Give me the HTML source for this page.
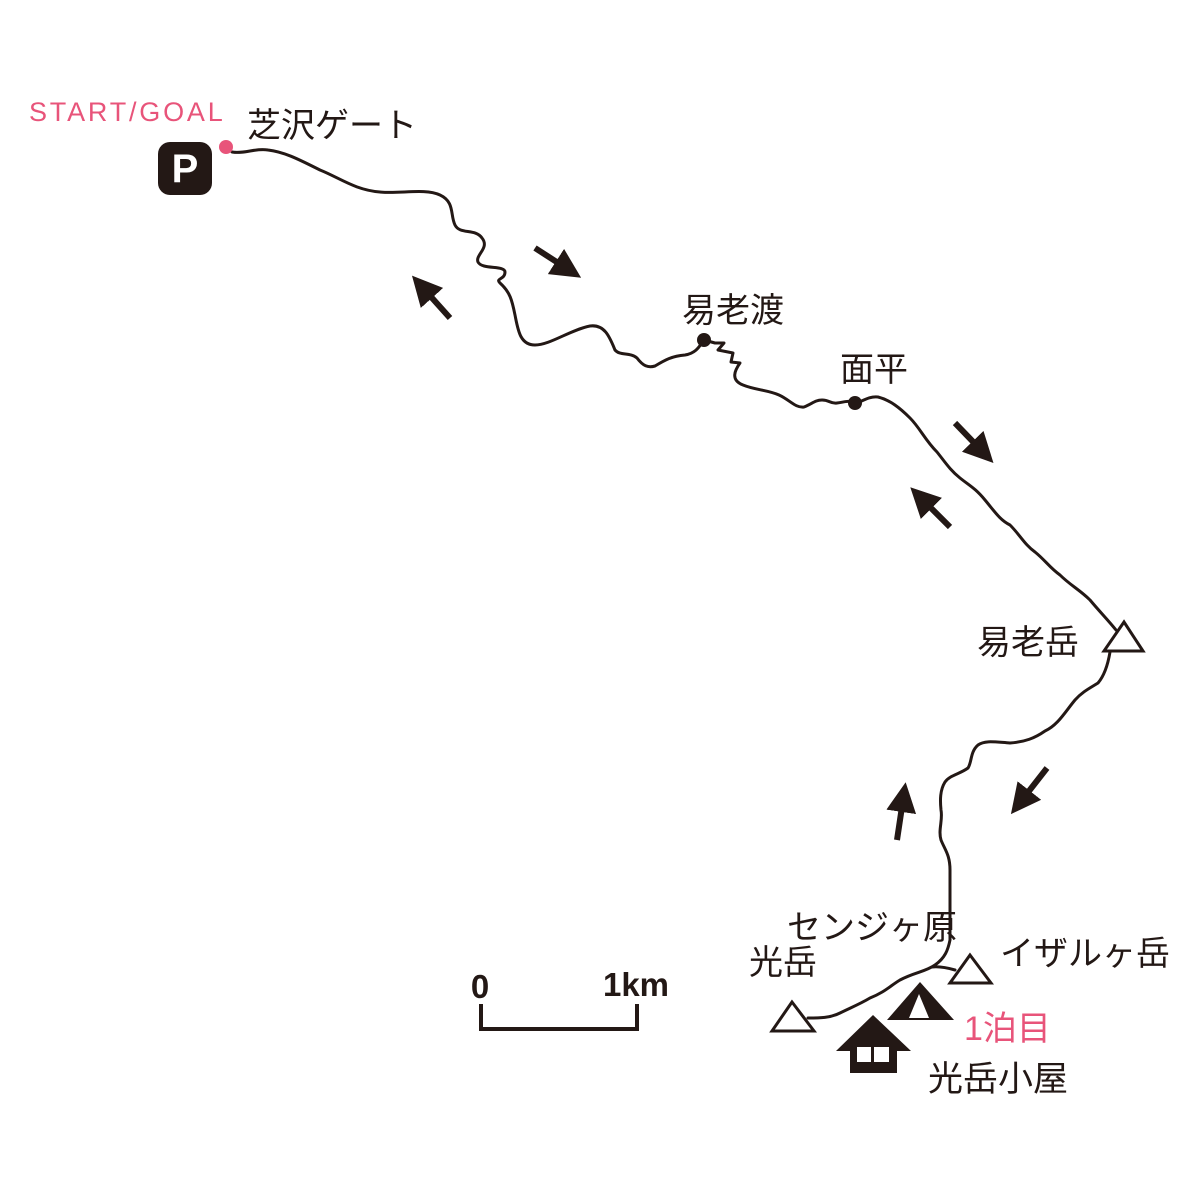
<!DOCTYPE html>
<html><head><meta charset="utf-8"><style>
html,body{margin:0;padding:0;background:#fff}
svg{display:block}
text{font-family:"Liberation Sans","Noto Sans CJK JP",sans-serif;fill:#231815}
</style></head><body>
<svg width="1200" height="1200" viewBox="0 0 1200 1200" xmlns="http://www.w3.org/2000/svg">
<defs>
<marker id="ah" markerWidth="5" markerHeight="5" refX="2" refY="2.5" orient="auto" markerUnits="strokeWidth">
<path d="M0,0 L5,2.5 L0,5 Z" fill="#231815"/>
</marker>
</defs>
<g fill="none" stroke="#231815" stroke-width="3" stroke-linejoin="round" stroke-linecap="round">
<path d="M232,152 C245,154 255,148 268,150 C285,152 300,160 320,170 C340,178 355,190 380,192 C400,194 425,188 440,195 C455,202 450,215 455,225 C460,235 475,228 482,238 C490,248 475,255 478,262 C482,270 505,265 505,272 C505,280 495,278 500,283 C510,292 512,300 515,315 C518,330 520,345 535,345 C550,345 570,330 590,326 C605,324 610,338 615,350 C620,356 630,352 637,358 C643,366 648,368 655,366 C665,360 672,356 685,355 C697,353 700,345 704,340 L715,343 L724,343 L718,350 L733,353 L731,362 L740,363 C735,370 730,380 743,385 C755,390 768,390 779,395 C790,400 795,408 804,407 C812,404 815,400 822,400 C830,400 830,404 837,403 C845,402 848,400 856,403 C862,402 868,396 878,397 C890,400 900,408 910,418 C920,428 925,440 937,452 C945,462 950,470 960,478 C970,486 975,488 985,500 C995,512 1000,520 1010,525 C1020,535 1025,545 1035,552 C1045,560 1050,568 1060,575 C1070,585 1080,590 1090,600 C1100,612 1108,620 1116,630"/>
<path d="M1110,652 C1108,664 1104,676 1098,683 C1090,688 1082,692 1075,700 C1065,712 1058,725 1045,731 C1035,738 1025,742 1010,743 C995,742 985,740 978,745 C970,752 972,762 968,768 C960,774 950,775 945,782 C940,790 940,800 941,810 C943,820 938,830 941,840 C945,850 950,855 950,870 L950,940 C948,950 945,958 935,965 C925,972 915,972 900,980 C890,986 885,992 870,998 C860,1004 850,1008 840,1013 C830,1018 820,1018 808,1018"/>
<path d="M932,967 C940,966 948,968 955,970"/>
</g>
<g stroke="#231815" stroke-width="6" marker-end="url(#ah)">
<line x1="450" y1="318" x2="424" y2="289"/>
<line x1="535" y1="248" x2="566" y2="268"/>
<line x1="955" y1="423" x2="981" y2="450"/>
<line x1="950" y1="527" x2="923" y2="500"/>
<line x1="1047" y1="768" x2="1022" y2="800"/>
<line x1="897" y1="840" x2="903" y2="800"/>
</g>
<g fill="#fff" stroke="#231815" stroke-width="3" stroke-linejoin="miter">
<polygon points="1124,622 1104,651 1143,651"/>
<polygon points="792,1002 772,1031 814,1031"/>
<polygon points="970,955 950,983 991,983"/>
</g>
<polygon points="920,982 887,1020 954,1020" fill="#231815"/>
<polygon points="919,994 909,1018 929,1018" fill="#fff"/>
<polygon points="873,1015 836,1051 911,1051" fill="#231815"/>
<rect x="850" y="1046" width="47" height="27" fill="#231815"/>
<rect x="857" y="1047" width="14" height="15" fill="#fff"/>
<rect x="874" y="1047" width="15" height="15" fill="#fff"/>
<circle cx="704" cy="340" r="7" fill="#231815"/>
<circle cx="855" cy="403" r="7" fill="#231815"/>
<circle cx="226" cy="147" r="7" fill="#e8547a"/>
<rect x="158" y="142" width="54" height="53" rx="12" fill="#231815"/>
<text x="185" y="182" font-size="40" font-weight="bold" text-anchor="middle" style="fill:#fff">P</text>
<g stroke="#231815" stroke-width="4" fill="none">
<path d="M481,1004 L481,1029 L637,1029 L637,1004"/>
</g>
<text x="480" y="998" font-size="33" font-weight="bold" text-anchor="middle">0</text>
<text x="636" y="996" font-size="33" font-weight="bold" text-anchor="middle">1km</text>
<text x="29" y="121" font-size="27" letter-spacing="2.8" style="fill:#e8547a">START/GOAL</text>
<g font-size="34">
<text x="247" y="137">芝沢ゲート</text>
<text x="682" y="322">易老渡</text>
<text x="840" y="381">面平</text>
<text x="977" y="654">易老岳</text>
<text x="787" y="939">センジヶ原</text>
<text x="749" y="974">光岳</text>
<text x="1000" y="965">イザルヶ岳</text>
<text x="964" y="1040" style="fill:#e8547a">1泊目</text>
<text x="928" y="1091" font-size="35">光岳小屋</text>
</g>
</svg>
</body></html>
